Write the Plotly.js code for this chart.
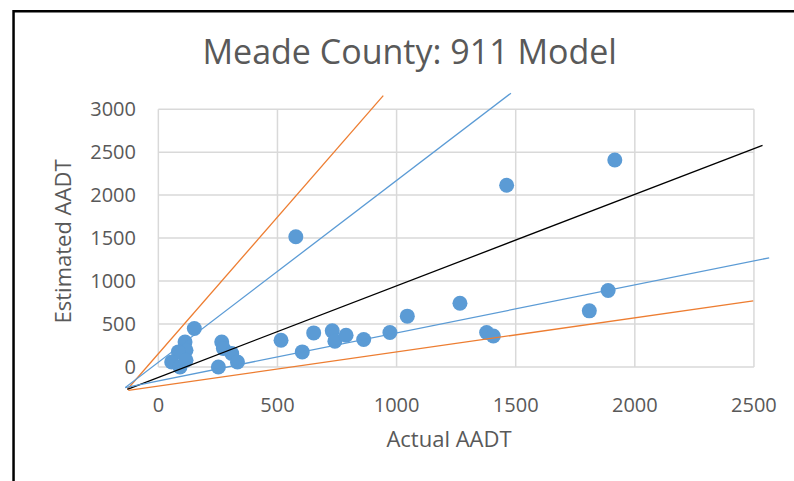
<!DOCTYPE html>
<html>
<head>
<meta charset="utf-8">
<script src="https://cdn.plot.ly/plotly-3.0.1.min.js"></script>
<style>html,body{margin:0;padding:0;background:#fff;}#chart{width:794px;height:481px;}</style>
</head>
<body>
<div id="chart"></div>
<script>
// Observed (actual) vs estimated AADT
const actualAADT = [151, 112, 116, 84, 56, 91, 116, 266, 273, 308, 332, 252, 515, 577, 604, 652, 730, 741, 788, 862, 972, 1045, 1266, 1378, 1406, 1462, 1809, 1888, 1916];
const estimatedAADT = [447, 291, 195, 175, 58, 0, 78, 291, 214, 156, 58, 0, 311, 1515, 175, 396, 420, 300, 369, 319, 401, 591, 742, 401, 361, 2114, 653, 890, 2409];

// Reference lines (endpoints)
const orangeHighX = [-130, 944];   const orangeHighY = [-260, 3158];
const blueHighX   = [-139, 1480];  const blueHighY   = [-240, 3186];
const blackX      = [-130, 2536];  const blackY      = [-260, 2580];
const blueLowX    = [-139, 2564];  const blueLowY    = [-240, 1270];
const orangeLowX  = [-126, 2497];  const orangeLowY  = [-272, 769];

const xTicks = [0, 500, 1000, 1500, 2000, 2500];
const yTicks = [0, 500, 1000, 1500, 2000, 2500, 3000];

const blue = '#5B9BD5', orange = '#ED7D31', txt = '#595959', grid = '#D9D9D9';
const font = 'Open Sans, sans-serif';

const traces = [
  {x: actualAADT, y: estimatedAADT, mode: 'markers', type: 'scatter',
   marker: {color: blue, size: 15}, cliponaxis: false, hoverinfo: 'x+y'},
  {x: orangeHighX, y: orangeHighY, mode: 'lines', line: {color: orange, width: 1.3}},
  {x: blueHighX, y: blueHighY, mode: 'lines', line: {color: blue, width: 1.3}},
  {x: blackX, y: blackY, mode: 'lines', line: {color: '#000', width: 1.3}},
  {x: blueLowX, y: blueLowY, mode: 'lines', line: {color: blue, width: 1.3}},
  {x: orangeLowX, y: orangeLowY, mode: 'lines', line: {color: orange, width: 1.3}}
];

const shapes = [];
const xMax = xTicks[xTicks.length - 1], yMax = yTicks[yTicks.length - 1];
xTicks.forEach(v => shapes.push({type: 'line', xref: 'x', yref: 'y', x0: v, x1: v, y0: 0, y1: yMax,
  line: {color: grid, width: 1.5}, layer: 'below'}));
yTicks.forEach(v => shapes.push({type: 'line', xref: 'x', yref: 'y', x0: 0, x1: xMax, y0: v, y1: v,
  line: {color: grid, width: 1.5}, layer: 'below'}));
// outer chart border
shapes.push({type: 'rect', xref: 'paper', yref: 'paper', x0: -0.172, x1: 1.3, y0: -0.6, y1: 1.27,
  line: {color: '#000', width: 2.5}, fillcolor: 'rgba(0,0,0,0)', layer: 'below'});

const layout = {
  width: 794, height: 481,
  margin: {l: 125, r: 21, t: 92, b: 90},
  paper_bgcolor: '#fff', plot_bgcolor: 'rgba(0,0,0,0)',
  showlegend: false,
  font: {family: font, color: txt},
  title: {text: 'Meade County: 911 Model', font: {size: 34, color: txt, family: font},
          xref: 'container', x: 0.516, xanchor: 'center', yref: 'container', y: 0.892, yanchor: 'middle'},
  xaxis: {range: [-140, 2580], tickvals: xTicks, ticktext: xTicks.map(String),
          showgrid: false, zeroline: false, showline: false, ticks: '',
          tickfont: {size: 20, color: txt, family: font}, ticklabelstandoff: 0,
          title: {text: 'Actual AADT', font: {size: 22, color: txt, family: font}, standoff: 14}},
  yaxis: {range: [-280, 3200], tickvals: yTicks, ticktext: yTicks.map(String),
          showgrid: false, zeroline: false, showline: false, ticks: '',
          tickfont: {size: 20, color: txt, family: font}, ticklabelstandoff: -12,
          title: {text: 'Estimated AADT', font: {size: 22, color: txt, family: font}, standoff: 12}},
  shapes: shapes
};

Plotly.newPlot('chart', traces, layout, {displayModeBar: false, staticPlot: true});
</script>
</body>
</html>
